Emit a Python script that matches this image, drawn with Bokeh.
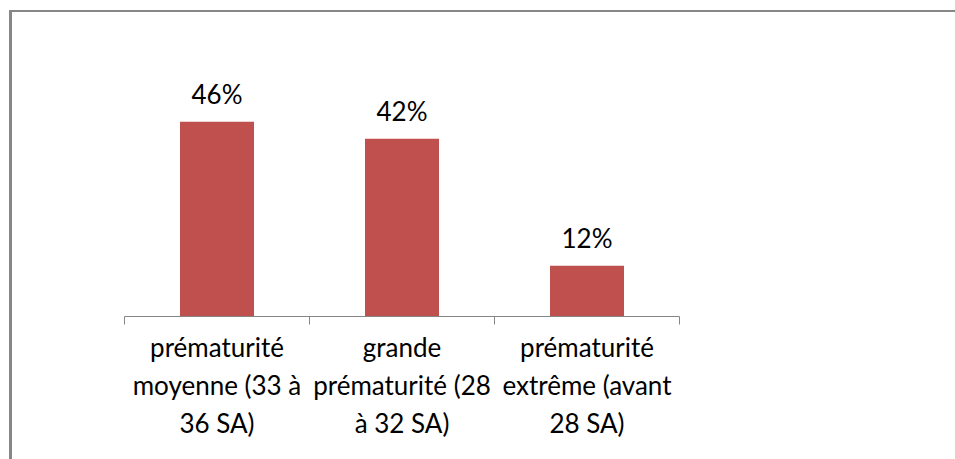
from bokeh.plotting import figure
from bokeh.models import ColumnDataSource, LabelSet, Range1d, FixedTicker
from bokeh.core.properties import value
from bokeh.embed import file_html
from bokeh.resources import INLINE

categories = [
    "prématurité\nmoyenne (33 à\n36 SA)",
    "grande\nprématurité (28\nà 32 SA)",
    "prématurité\nextrême (avant\n28 SA)",
]
values = [46, 42, 12]
value_labels = [f"{v}%" for v in values]

FONT = "Lato"
centers = [i + 0.5 for i in range(len(categories))]
source = ColumnDataSource(dict(x=centers, top=values, label=value_labels))

p = figure(
    frame_width=555, frame_height=254,
    min_border_left=112, min_border_right=276,
    min_border_top=50, min_border_bottom=143,
    x_range=Range1d(0, len(categories)), y_range=Range1d(0, 60),
    output_backend="svg", toolbar_location=None,
    y_axis_location=None,
)
p.styles = {
    "margin-left": "9px", "margin-top": "10px",
    "border-top": "2px solid #878787", "border-left": "3px solid #878787",
}
p.outline_line_color = None
p.xgrid.visible = False
p.ygrid.visible = False
p.background_fill_color = "white"
p.border_fill_color = "white"

p.vbar(x="x", top="top", width=0.4, bottom=0, source=source,
       fill_color="#C0504D", line_color=None)

labels = LabelSet(x="x", y="top", text="label", source=source,
                  text_align="center", text_baseline="alphabetic",
                  y_offset=18, text_font=value(FONT), text_font_size=value("26px"),
                  text_color="#000000")
p.add_layout(labels)

ax = p.xaxis[0]
ax.ticker = FixedTicker(ticks=centers, minor_ticks=list(range(len(categories) + 1)))
ax.major_label_overrides = {c: lab for c, lab in zip(centers, categories)}
ax.major_tick_line_color = None
ax.minor_tick_line_color = "#868686"
ax.minor_tick_in = 0
ax.minor_tick_out = 8
ax.axis_line_color = "#868686"
ax.axis_line_width = 1
ax.major_label_text_font = FONT
ax.major_label_text_font_size = "26px"
ax.major_label_text_color = "#000000"
ax.major_label_standoff = 6

open("out.html", "w").write(file_html(p, INLINE))
